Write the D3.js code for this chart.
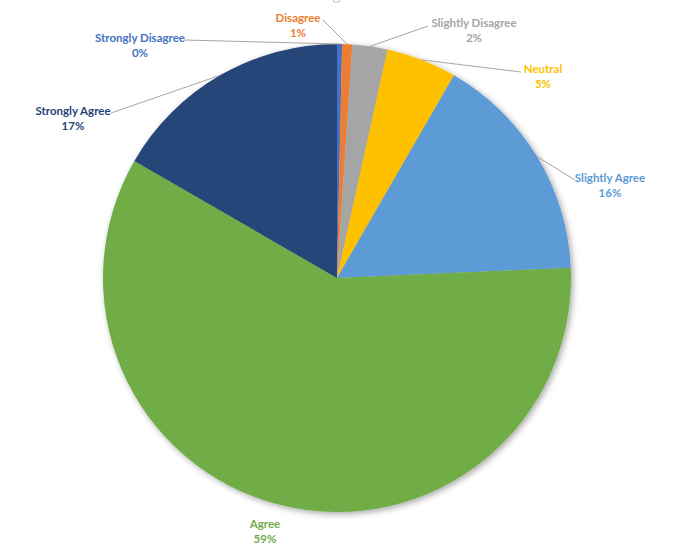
<!DOCTYPE html>
<html><head><meta charset="utf-8">
<script src="https://cdn.jsdelivr.net/npm/d3@7"></script>
<style>body{margin:0;background:#fff}svg{display:block}</style>
</head><body>
<script>
const categories = ["Strongly Disagree","Disagree","Slightly Disagree","Neutral","Slightly Agree","Agree","Strongly Agree"];
const counts = [1, 2, 7, 14, 46, 170, 48];
const percentLabels = ["0%","1%","2%","5%","16%","59%","17%"];
const colors = ["#4472C4","#ED7D31","#A5A5A5","#FFC000","#5B9BD5","#70AD47","#264478"];
// label anchor (text centre) and leader-line end point
const labelPos = [[140,37],[298,17],[474,22],[543,68],[610,177],[265,523],[73,110]];
const leaderEnds = [[184,40],[323,20],[428,26],[521,72],[575,180],null,[111,113]];

const W=679,H=556, cx=337, cy=278, R=234;
const svg=d3.select("body").append("svg").attr("width",W).attr("height",H);
const defs=svg.append("defs");
const f=defs.append("filter").attr("id","sh").attr("x","-20%").attr("y","-20%").attr("width","140%").attr("height","140%");
f.append("feDropShadow").attr("dx",2).attr("dy",2).attr("stdDeviation",3).attr("flood-color","#000").attr("flood-opacity",0.35);

// small selection handle at the top edge
svg.append("rect").attr("x",333.5).attr("y",-3).attr("width",6).attr("height",5).attr("rx",1)
  .attr("fill","#fff").attr("stroke","#BBBBBB").attr("stroke-width",1);

const data=categories.map((c,i)=>({c,v:counts[i],p:percentLabels[i],col:colors[i],i}));
const pie=d3.pie().value(d=>d.v).sort(null);
const arcs=pie(data);
const arc=d3.arc().innerRadius(0).outerRadius(R);
const g=svg.append("g").attr("transform",`translate(${cx},${cy})`);
g.append("g").attr("filter","url(#sh)").selectAll("path").data(arcs).join("path")
  .attr("d",arc).attr("fill",d=>d.data.col);

// leader lines
const outer=d3.arc().innerRadius(R).outerRadius(R);
arcs.forEach((a,i)=>{
  const e=leaderEnds[i]; if(!e) return;
  const [x,y]=outer.centroid(a);
  svg.append("line").attr("x1",cx+x).attr("y1",cy+y).attr("x2",e[0]).attr("y2",e[1])
    .attr("stroke","#A6A6A6").attr("stroke-width",1);
});
// labels
const lab=svg.append("g").attr("font-family","Lato, 'Open Sans', sans-serif").attr("font-weight","bold").attr("font-size",11.5).attr("text-anchor","middle");
data.forEach((d,i)=>{
  const [x,y]=labelPos[i];
  const t=lab.append("text").attr("x",x).attr("y",y).attr("fill",d.col).attr("dominant-baseline","central");
  t.append("tspan").attr("x",x).text(d.c);
  t.append("tspan").attr("x",x).attr("dy",15).text(d.p);
});
</script>
</body></html>
